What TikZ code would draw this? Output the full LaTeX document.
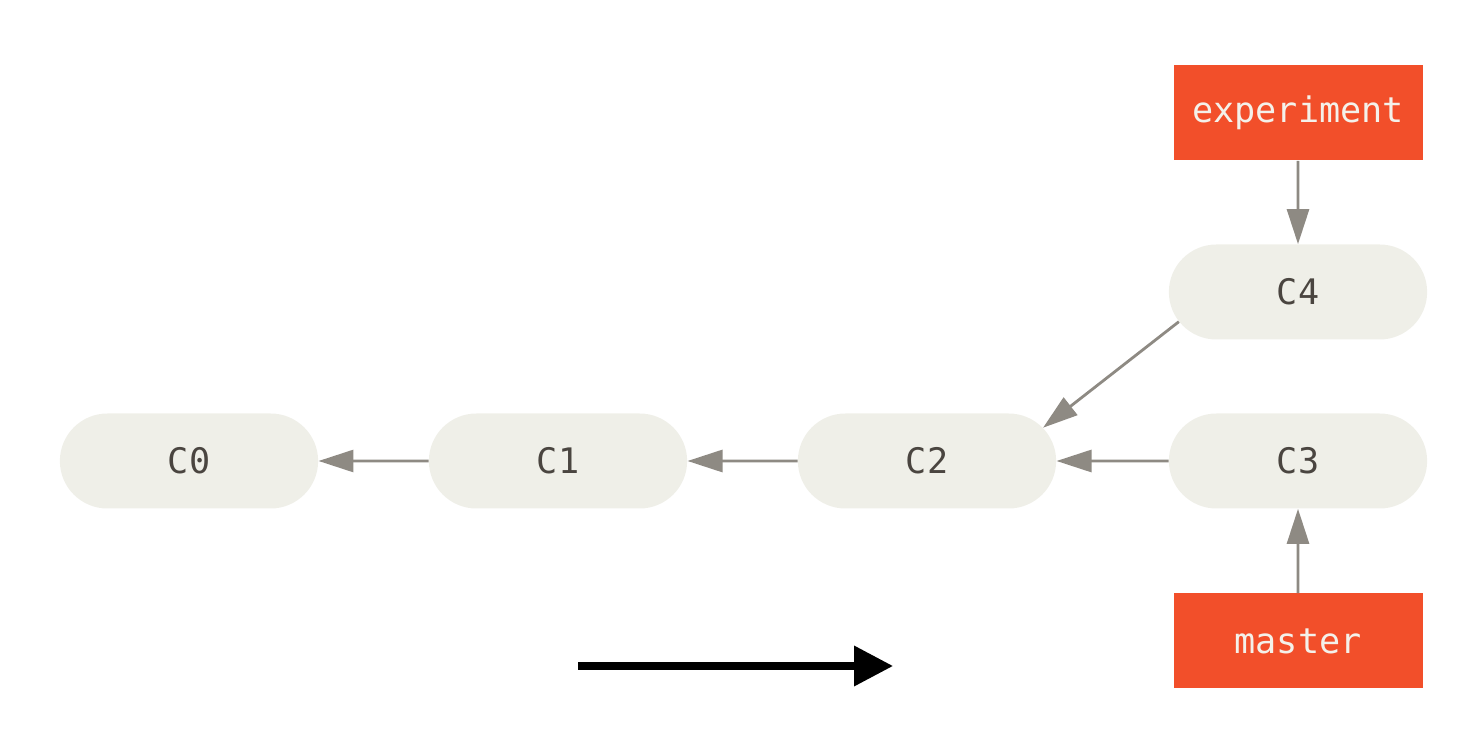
\documentclass[tikz,border=0pt]{standalone}
\usepackage{fontspec}
\setmonofont{DejaVu Sans Mono}
\usetikzlibrary{arrows.meta,shapes.misc}
\definecolor{commitfill}{HTML}{EFEFE8}
\definecolor{committext}{HTML}{4A4540}
\definecolor{branchred}{HTML}{F24F2A}
\definecolor{branchtext}{HTML}{F4F1EA}
\definecolor{linkgray}{HTML}{8E8A83}
\begin{document}
\begin{tikzpicture}[
  commit/.style={rounded rectangle, fill=commitfill, text=committext, minimum width=5.4cm, minimum height=1.9cm, font=\ttfamily\fontsize{20}{22}\selectfont},
  branch/.style={rectangle, fill=branchred, text=branchtext, minimum width=4.98cm, minimum height=1.9cm, font=\ttfamily\fontsize{20}{22}\selectfont},
  link/.style={-{Triangle[length=0.7cm,width=0.44cm]}, linkgray, line width=1.6pt}
]
\useasboundingbox (0,0) rectangle (29.32,14.72);
%\draw[help lines, thick,gray,step=1] (0,0) grid (30,15);
\node[commit] (C0) at (3.78,5.5) {C0};
\node[commit] (C1) at (11.16,5.5) {C1};
\node[commit] (C2) at (18.54,5.5) {C2};
\node[commit] (C3) at (25.96,5.5) {C3};
\node[commit] (C4) at (25.96,8.88) {C4};
\node[branch] (experiment) at (25.96,12.46) {experiment};
\node[branch] (master) at (25.96,1.9) {master};
\draw[link] (C1) -- (C0);
\draw[link] (C2) -- (C1);
\draw[link] (C3) -- (C2);
\draw[link] (C4.194) -- (C2.16);
\draw[link] (experiment) -- (C4);
\draw[link] (master) -- (C3);
\coordinate (from) at (11.56,1.4);
\coordinate (to) at (17.86,1.4);
\draw[-{Triangle[length=0.78cm,width=0.78cm]}, line width=4pt] (from) -- (to);
\end{tikzpicture}
\end{document}
